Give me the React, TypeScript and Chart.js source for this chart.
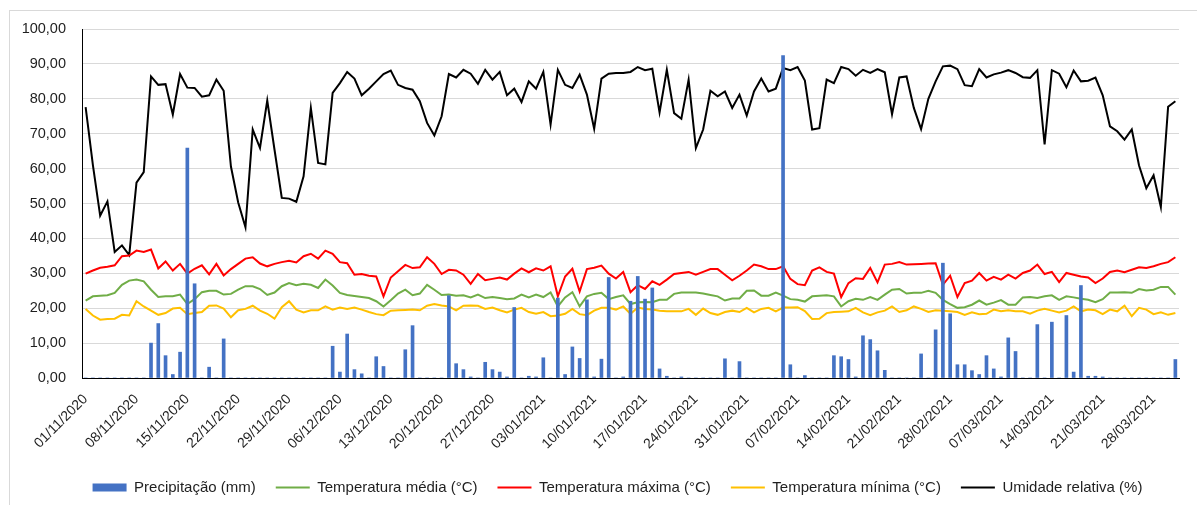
import React, { useEffect, useRef } from 'react';
import { Chart, registerables } from 'chart.js';

Chart.register(...registerables);

// Daily categories: 01/11/2020 .. 31/03/2021 (151 days)
const FIRST_DAY = { year: 2020, monthIndex: 10, day: 1 };
const DAY_COUNT = 151;
const categories: string[] = Array.from({ length: DAY_COUNT }, (_, i) => {
  const d = new Date(Date.UTC(FIRST_DAY.year, FIRST_DAY.monthIndex, FIRST_DAY.day + i));
  const dd = String(d.getUTCDate()).padStart(2, '0');
  const mm = String(d.getUTCMonth() + 1).padStart(2, '0');
  return `${dd}/${mm}/${d.getUTCFullYear()}`;
});

const weeklyTickLabels: string[] = [
  '01/11/2020', '08/11/2020', '15/11/2020', '22/11/2020', '29/11/2020', '06/12/2020',
  '13/12/2020', '20/12/2020', '27/12/2020', '03/01/2021', '10/01/2021', '17/01/2021',
  '24/01/2021', '31/01/2021', '07/02/2021', '14/02/2021', '21/02/2021', '28/02/2021',
  '07/03/2021', '14/03/2021', '21/03/2021', '28/03/2021',
];

const yTickValues: number[] = [0, 10, 20, 30, 40, 50, 60, 70, 80, 90, 100];

const precipitacao: number[] = [
  0, 0, 0, 0, 0, 0, 0, 0, 0, 10,
  15.6, 6.4, 1, 7.4, 65.9, 27, 0, 3.1, 0, 11.2,
  0, 0, 0, 0, 0, 0, 0, 0, 0, 0,
  0, 0, 0, 0, 9.1, 1.7, 12.6, 2.4, 1.2, 0,
  6.1, 3.3, 0, 0, 8.1, 15, 0, 0, 0, 0,
  23.6, 4.1, 2.4, 0.3, 0, 4.5, 2.4, 1.7, 0.3, 20.2,
  0, 0.5, 0.3, 5.8, 0, 22.9, 1, 8.9, 5.6, 22.4,
  0.3, 5.4, 28.8, 0, 0.3, 22, 29.1, 22.6, 25.8, 2.6,
  0.5, 0, 0.3, 0, 0, 0, 0, 0, 5.5, 0,
  4.7, 0, 0, 0, 0, 0, 92.4, 3.8, 0, 0.7,
  0, 0, 0, 6.4, 6.1, 5.3, 0.3, 12.1, 11, 7.8,
  2.2, 0, 0, 0, 0, 6.9, 0, 13.8, 32.9, 18.4,
  3.8, 3.8, 2.1, 1, 6.4, 2.6, 0.3, 11.5, 7.6, 0,
  0, 15.3, 0, 16, 0, 17.9, 1.7, 26.5, 0.5, 0.5,
  0.3, 0, 0, 0, 0, 0, 0, 0, 0, 0,
  5.3,
];

const temperaturaMedia: number[] = [
  22.2, 23.4, 23.6, 23.7, 24.4, 26.7, 27.9, 28.2, 27.7, 25.3,
  23.2, 23.4, 23.4, 23.9, 21.2, 22.6, 24.6, 25, 25, 23.9,
  24.1, 25.3, 26.3, 26.3, 25.5, 23.8, 24.5, 26.3, 27.2, 26.6,
  27, 26.7, 25.8, 28.2, 26.5, 24.4, 23.8, 23.5, 23.2, 22.9,
  22, 20.5, 22.3, 24.2, 25.3, 23.7, 24.2, 26.7, 25.3, 23.8,
  23.9, 23.6, 23.7, 23.1, 23.9, 22.9, 23.2, 22.9, 22.6, 22.8,
  23.9, 23.1, 23.9, 23.2, 24.5, 20.5, 23.1, 24.6, 20.5, 23.4,
  24.1, 24.4, 22.6, 23.2, 23.7, 21.2, 21.7, 21.8, 21.7, 22.4,
  22.4, 24.1, 24.5, 24.5, 24.5, 24.2, 23.8, 23.4, 22.2, 22.8,
  22.8, 25, 25.1, 23.6, 23.6, 24.5, 23.6, 22.6, 22.4, 21.9,
  23.4, 23.6, 23.7, 23.4, 20.5, 22, 22.7, 22.4, 23.2, 22.4,
  23.9, 25.3, 25.5, 24.2, 24.4, 24.4, 25, 24.4, 22.4, 21.2,
  20.1, 20.3, 21, 22.2, 21, 21.6, 22.3, 21, 21, 23.1,
  23.2, 22.9, 23.4, 23.7, 22.4, 23.4, 23.1, 22.7, 22.4, 21.7,
  22.6, 24.5, 24.5, 24.6, 24.4, 25.5, 25.1, 25.3, 26.1, 26.1,
  23.9,
];

const temperaturaMaxima: number[] = [
  29.9, 30.8, 31.6, 31.9, 32.3, 34.9, 35.1, 36.5, 36.1, 36.8,
  31.4, 33.4, 30.8, 32.7, 29.9, 31.3, 32.3, 29.7, 32.7, 29.4,
  31.2, 32.7, 34.2, 34.6, 32.8, 32, 32.7, 33.2, 33.6, 33.1,
  34.9, 35.6, 34.2, 36.5, 35.6, 33.2, 32.9, 29.6, 29.8, 29.3,
  29.1, 23.4, 28.8, 30.6, 32.4, 31.5, 31.7, 34.6, 32.7, 29.8,
  31, 30.8, 29.6, 27, 29.8, 28, 28.4, 28.8, 28.2, 29.9,
  31.4, 30.3, 31.4, 30.8, 32, 23.4, 29.1, 31.3, 24.8, 31.2,
  31.6, 32.2, 29.9, 28.5, 30.4, 24.6, 26.6, 25.5, 27.7, 26.7,
  28.2, 29.8, 30.1, 30.4, 29.6, 30.4, 31.2, 31.2, 29.6, 28,
  29.3, 30.8, 32.5, 32, 31.2, 31.2, 32, 28.4, 26.9, 26.6,
  30.8, 31.7, 30.4, 29.9, 23.2, 27.2, 28.6, 28.4, 31.5, 27.4,
  32.5, 32.7, 33.2, 32.5, 32.6, 32.7, 32.8, 32.9, 26.7, 29.3,
  23.2, 27.2, 27.9, 30.1, 27.9, 29, 28.2, 29.6, 28.5, 30.1,
  30.8, 32.5, 29.8, 30.4, 27.5, 30.1, 29.6, 29.1, 28.8, 27.2,
  28.5, 30.4, 30.8, 30.3, 31, 31.7, 31.5, 32, 32.7, 33.2,
  34.6,
];

const temperaturaMinima: number[] = [
  19.8, 17.9, 16.7, 16.9, 17, 18.1, 17.9, 22, 20.5, 19.3,
  18.1, 18.6, 19.9, 20.1, 18.3, 18.6, 18.9, 20.7, 20.8, 19.9,
  17.4, 19.4, 19.8, 20.7, 19.3, 18.4, 17, 20.3, 22, 19.6,
  18.8, 19.4, 19.4, 20.5, 19.6, 20.2, 19.8, 20.2, 19.6, 18.9,
  18.3, 18, 19.3, 19.4, 19.5, 19.6, 19.4, 20.7, 21.2, 20.8,
  20.5, 19.4, 20.7, 20.8, 20.7, 19.8, 20.2, 19.4, 18.8, 19.6,
  20.1, 18.9, 18.4, 18.9, 17.7, 17.9, 18.4, 19.8, 18.3, 18,
  19.3, 20.1, 20.1, 19.6, 20.5, 18.4, 20.2, 19.8, 19.6, 19.3,
  19.1, 19.1, 19.1, 19.8, 18.1, 19.9, 18.6, 18.1, 18.9, 19.3,
  18.9, 20.1, 18.8, 19.8, 20.1, 19.1, 20.2, 20.2, 20.3, 19.2,
  16.9, 17, 18.6, 18.9, 19, 19.1, 20.1, 18.8, 18, 18.8,
  19.3, 20.5, 18.9, 19.4, 20.5, 19.8, 18.9, 19.4, 19.3, 19.1,
  18.9, 18.1, 18.8, 18.3, 18.4, 19.6, 19.1, 19.4, 19.1, 19.1,
  18.4, 19.3, 19.8, 19.3, 18.8, 19.3, 20.5, 19.1, 19.6, 19.4,
  18.3, 19.6, 19.1, 20.7, 17.7, 20.1, 19.6, 18.3, 18.8, 18.1,
  18.6,
];

const umidadeRelativa: number[] = [
  77.6, 61, 46.5, 50.6, 36.1, 38, 35.2, 56, 59, 86.4,
  84, 84.2, 75.5, 87.1, 83.2, 83.1, 80.6, 81, 85.5, 82.3,
  60.6, 50.3, 43.2, 71.2, 65.9, 79.5, 65.4, 51.6, 51.4, 50.5,
  57.8, 77.4, 61.6, 61.2, 81.7, 84.5, 87.7, 85.8, 81, 82.9,
  85, 87.1, 88.1, 84, 83.1, 82.6, 79.3, 73.1, 69.5, 75,
  87.1, 86.1, 88.3, 87.2, 84.3, 88.3, 85.5, 87.7, 81, 82.9,
  79.1, 85, 82.9, 87.7, 72.6, 88.3, 84, 83.1, 86.9, 81.2,
  71.4, 85.8, 87.2, 87.4, 87.4, 87.7, 89.1, 88.2, 88.6, 76.1,
  88.3, 75.9, 74.3, 85.5, 65.9, 71.2, 82.3, 80.7, 82.1, 77.4,
  81.2, 75.2, 82.1, 85.8, 82.1, 82.9, 88.8, 88.2, 89.1, 85.2,
  71.2, 71.6, 85.5, 84.5, 89.1, 88.5, 86.6, 88.3, 87.4, 88.5,
  87.6, 75.6, 86.1, 86.4, 77.4, 71.3, 80, 85, 89.3, 89.5,
  88.5, 83.9, 83.6, 88.5, 86.1, 87, 87.5, 88.2, 87.4, 86.2,
  86, 88.2, 66.9, 88.2, 87.2, 83.3, 88.1, 85, 85.2, 86.1,
  81, 72.1, 70.7, 68.3, 71.2, 60.9, 54.4, 58.1, 49, 77.7,
  79.3,
];

const FONT = '"Liberation Sans", Arial, sans-serif';
const TEXT = '#1f1f1f';

function lineSet(label: string, data: number[], color: string) {
  return {
    type: 'line' as const,
    label,
    data,
    borderColor: color,
    backgroundColor: color,
    borderWidth: 2,
    pointRadius: 0,
    pointHoverRadius: 0,
    pointBorderWidth: 2,
    pointBorderColor: color,
    pointStyle: 'line',
    tension: 0,
    fill: false,
  };
}

// Shift the (centered) legend so it sits where the reference legend sits.
const legendShift = {
  id: 'legendShift',
  beforeDraw(chart: any) {
    const lg = chart.legend;
    if (lg) {
      lg.left = 56;
    }
  },
};

export default function App() {
  const canvasRef = useRef<HTMLCanvasElement | null>(null);

  useEffect(() => {
    const canvas = canvasRef.current;
    if (!canvas) return;
    const chart = new Chart(canvas, {
      type: 'bar',
      data: {
        labels: categories,
        datasets: [
          {
            type: 'bar',
            label: 'Precipitação (mm)',
            data: precipitacao,
            backgroundColor: '#4472C4',
            borderWidth: 0,
            barThickness: 3,
            pointStyle: 'rect',
          } as any,
          lineSet('Temperatura média (°C)', temperaturaMedia, '#70AD47'),
          lineSet('Temperatura máxima (°C)', temperaturaMaxima, '#FF0000'),
          lineSet('Temperatura mínima (°C)', temperaturaMinima, '#FFC000'),
          lineSet('Umidade relativa (%)', umidadeRelativa, '#000000'),
        ],
      },
      plugins: [legendShift],
      options: {
        responsive: false,
        animation: false,
        events: [],
        layout: { padding: { left: 0, right: 18, top: 29, bottom: 0 } },
        plugins: {
          tooltip: { enabled: false },
          legend: {
            position: 'bottom',
            align: 'center',
            labels: {
              usePointStyle: true,
              pointStyleWidth: 34,
              boxHeight: 8,
              padding: 20,
              color: TEXT,
              font: { family: FONT, size: 15 },
            },
          },
        },
        scales: {
          x: {
            offset: true,
            grid: { display: false, drawTicks: false, offset: true },
            border: { display: true, color: '#000000', width: 1 },
            ticks: {
              autoSkip: false,
              minRotation: 45,
              maxRotation: 45,
              padding: 13,
              color: TEXT,
              font: { family: FONT, size: 14 },
              callback: (_v: any, i: number) =>
                weeklyTickLabels.includes(categories[i]) ? categories[i] : '',
            },
            afterFit: (s: any) => {
              s.height = 82;
              s.paddingRight = 0;
              s.paddingLeft = 0;
            },
          },
          y: {
            min: yTickValues[0],
            max: yTickValues[yTickValues.length - 1],
            grid: { color: '#D9D9D9', lineWidth: 1, drawTicks: false },
            border: { display: true, color: '#000000', width: 1 },
            afterBuildTicks: (s: any) => {
              s.ticks = yTickValues.map((v) => ({ value: v }));
            },
            ticks: {
              padding: 16,
              color: TEXT,
              font: { family: FONT, size: 14.5 },
              callback: (v: any) => Number(v).toFixed(2).replace('.', ','),
            },
            afterFit: (s: any) => {
              s.width = 82;
            },
          },
        },
      } as any,
    });
    return () => chart.destroy();
  }, []);

  return (
    <div style={{ position: 'fixed', left: 0, top: 0, width: 1197, height: 505, overflow: 'hidden', background: '#fff' }}>
      <div
        style={{
          position: 'absolute',
          left: 9,
          top: 10,
          width: 1188,
          height: 495,
          borderTop: '1px solid #D9D9D9',
          borderLeft: '1px solid #D9D9D9',
          boxSizing: 'border-box',
        }}
      />
      <canvas
        ref={canvasRef}
        width={1197}
        height={505}
        style={{ position: 'absolute', left: 0, top: 0, width: 1197, height: 505 }}
      />
    </div>
  );
}
